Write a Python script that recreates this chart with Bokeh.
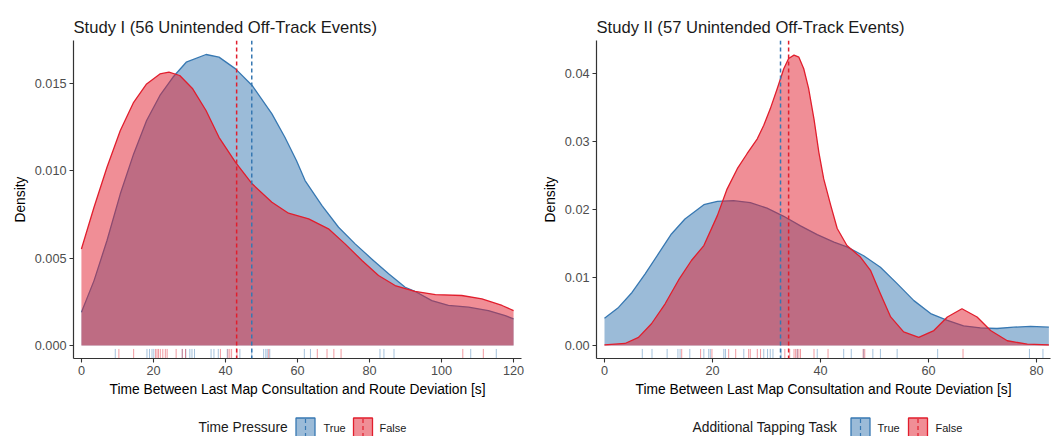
from bokeh.plotting import figure
from bokeh.layouts import column, row
from bokeh.models import Range1d, Span, FixedTicker, NumeralTickFormatter
from bokeh.core.properties import value
from bokeh.embed import file_html
from bokeh.resources import INLINE

# ---------------- data ----------------
# Study I density curves (seconds -> density)
s1_true_x = [0, 3.5, 7.1, 10.8, 14.5, 18.1, 21.8, 25.4, 29.1, 34.6, 38.2, 42.8, 47.4, 52.9,
             56.5, 59.7, 62.1, 66.8, 71.4, 76, 80.6, 85.3, 89.9, 92.6, 97.3, 101.9, 107.5,
             113, 117.7, 120]
s1_true_y = [0.0019, 0.00371, 0.006, 0.00867, 0.01095, 0.01286, 0.01429, 0.01533, 0.01619,
             0.01663, 0.01648, 0.01581, 0.01486, 0.01324, 0.0119, 0.01057, 0.00943, 0.008,
             0.00676, 0.00581, 0.00495, 0.0041, 0.00333, 0.0031, 0.00257, 0.00229, 0.00219,
             0.002, 0.00171, 0.00152]
s1_false_x = [0, 3.5, 7.1, 10.8, 14.5, 18.1, 21.8, 24.3, 27.3, 30.9, 34.6, 38.2, 42.8, 47.4,
              52.9, 57.5, 63.1, 68.6, 73.2, 77.9, 82.5, 87.1, 92.6, 98.3, 105.6, 111.2,
              116.8, 120]
s1_false_y = [0.00552, 0.0079, 0.01019, 0.01229, 0.0139, 0.01495, 0.01552, 0.01562, 0.01543,
              0.01467, 0.01343, 0.0119, 0.01047, 0.00924, 0.00819, 0.00756, 0.00724, 0.00667,
              0.00581, 0.00486, 0.004, 0.00343, 0.0031, 0.00291, 0.00286, 0.00267, 0.00229,
              0.002]
s1_true_rug = [9.4, 18.2, 18.9, 19.6, 20.1, 28.0, 29.0, 30.1, 30.7, 31.4, 36.0, 36.8, 38.0,
               40.5, 44.0, 47.3, 50.6, 51.2, 51.6, 52.3, 61.9, 63.6, 82.9, 84.0, 86.8, 108.1,
               115.2]
s1_false_rug = [10.4, 14.5, 20.6, 21.0, 21.4, 21.9, 22.6, 23.3, 23.8, 26.3, 28.0, 28.9, 38.6,
                40.7, 41.2, 41.7, 43.2, 52.0, 65.5, 68.2, 70.1, 72.1, 105.9, 111.6]
s1_means = {"True": 47.3, "False": 43.1}

# Study II density curves
s2_true_x = [0, 2.6, 5.1, 7.5, 10, 12.4, 14.9, 18.4, 20.9, 23.9, 27.0, 30.1, 33.2, 36.3,
             39.4, 42.5, 44.9, 48, 51.1, 54.2, 57.3, 60.4, 63.5, 66.5, 69.6, 72.7, 75.8,
             78.9, 82.3]
s2_true_y = [0.004, 0.0056, 0.0078, 0.0105, 0.0135, 0.0164, 0.0186, 0.0207, 0.0212, 0.0213,
             0.021, 0.0202, 0.019, 0.0176, 0.0163, 0.0152, 0.0145, 0.0132, 0.0115, 0.0091,
             0.0066, 0.0047, 0.0037, 0.0029, 0.0026, 0.0025, 0.0027, 0.0028, 0.0027]
s2_false_x = [0, 3.8, 6.3, 8.7, 11.2, 13.7, 16.1, 18.4, 20.9, 22.7, 24.6, 26.4, 28.3, 29.5,
              30.7, 32.0, 33.2, 34.1, 35.1, 36.0, 36.9, 37.8, 38.8, 39.7, 40.6, 41.9, 43.1,
              44.9, 47.4, 49.3, 51.1, 53.0, 55.4, 58.2, 61, 63.5, 66.2, 69, 71.5, 74.6, 78.3,
              82.3]
s2_false_y = [0.0001, 0.0003, 0.0012, 0.0032, 0.0061, 0.0096, 0.0125, 0.0147, 0.0191, 0.0230,
              0.0260, 0.0282, 0.0304, 0.0324, 0.0348, 0.0378, 0.0407, 0.0422, 0.0427, 0.0424,
              0.0407, 0.0378, 0.0333, 0.0284, 0.0245, 0.0206, 0.0172, 0.0147, 0.013, 0.011,
              0.0076, 0.0042, 0.002, 0.0012, 0.0022, 0.0042, 0.0054, 0.0042, 0.0022, 0.0007,
              0.0002, 0.0001]
s2_true_rug = [7.0, 8.8, 11.6, 13.6, 14.0, 15.8, 18.4, 19.3, 19.6, 22.1, 22.4, 25.8, 29.5,
               30.2, 30.7, 31.2, 32.7, 35.7, 39.4, 44.3, 45.7, 48.0, 49.7, 51.1, 54.2, 61.7,
               78.7, 81.2]
s2_false_rug = [14.3, 17.8, 19.9, 23.0, 24.3, 26.7, 27.0, 28.3, 28.9, 33.4, 34.3, 35.1, 35.4,
                35.7, 36.0, 36.3, 38.8, 41.4, 47.9, 48.2, 66.4]
s2_means = {"True": 32.6, "False": 34.1}

s1_xticks = [0, 20, 40, 60, 80, 100, 120]
s1_yticks = [0.0, 0.005, 0.010, 0.015]
s2_xticks = [0, 20, 40, 60, 80]
s2_yticks = [0.0, 0.01, 0.02, 0.03, 0.04]

titles = ["Study I (56 Unintended Off-Track Events)", "Study II (57 Unintended Off-Track Events)"]
x_label = "Time Between Last Map Consultation and Route Deviation [s]"
y_label = "Density"
legend_titles = ["Time Pressure", "Additional Tapping Task"]
groups = ["True", "False"]

# ---------------- style ----------------
BLUE = "#3778B2"
RED = "#E11E2D"
COLORS = {"True": BLUE, "False": RED}
FONT = "Liberation Sans"
AXIS_COL = "#333333"


def make_panel(title, width, left, right, xr, yr, xticks, yticks, yfmt,
               curves, rugs, means):
    p = figure(width=width, height=400, x_range=Range1d(*xr), y_range=Range1d(*yr),
               output_backend="svg", toolbar_location=None,
               min_border_left=left, min_border_right=right,
               min_border_top=40, min_border_bottom=42)
    p.title.text = title
    p.title.text_font = FONT
    p.title.text_font_size = "16.6px"
    p.title.text_font_style = "normal"
    p.title.text_color = "#1A1A1A"
    p.title.align = "left"
    p.title.standoff = 7
    p.outline_line_color = None
    p.grid.visible = False
    p.background_fill_color = "white"
    p.border_fill_color = "white"
    for ax in (p.xaxis[0], p.yaxis[0]):
        ax.axis_line_color = AXIS_COL
        ax.axis_line_width = 1.2
        ax.major_tick_line_color = AXIS_COL
        ax.major_tick_line_width = 1.1
        ax.major_tick_out = 4
        ax.major_tick_in = 0
        ax.minor_tick_line_color = None
        ax.major_label_text_font = FONT
        ax.major_label_text_font_size = "12.7px"
        ax.major_label_text_color = "#4D4D4D"
        ax.major_label_standoff = 3
        ax.axis_label_text_font = FONT
        ax.axis_label_text_font_size = "13.8px"
        ax.axis_label_text_font_style = "normal"
        ax.axis_label_text_color = "black"
        ax.axis_label_standoff = 4
    p.xaxis.ticker = FixedTicker(ticks=xticks)
    p.yaxis.ticker = FixedTicker(ticks=yticks)
    p.yaxis.formatter = NumeralTickFormatter(format=yfmt)
    p.xaxis.axis_label = x_label
    p.yaxis.axis_label = y_label

    y0 = yr[0]
    rug_top = yr[0] + 0.03 * (yr[1] - yr[0])
    for g in groups:
        xs, ys = curves[g]
        p.varea(x=xs, y1=[0] * len(xs), y2=ys, fill_color=COLORS[g], fill_alpha=0.5)
        p.line(xs, ys, line_color=COLORS[g], line_width=1.3, line_join="round")
    for g in groups:
        r = rugs[g]
        p.segment(x0=r, y0=[y0] * len(r), x1=r, y1=[rug_top] * len(r),
                  line_color=COLORS[g], line_alpha=0.45, line_width=1)
    for g in groups:
        p.add_layout(Span(location=means[g], dimension="height", line_color=COLORS[g],
                          line_dash="4 3", line_width=1.5))
    return p


p1 = make_panel(titles[0], 530, 73, 9, (-2.2, 122.2), (-0.00074, 0.01743),
                s1_xticks, s1_yticks, "0.000",
                {"True": (s1_true_x, s1_true_y), "False": (s1_false_x, s1_false_y)},
                {"True": s1_true_rug, "False": s1_false_rug}, s1_means)
p2 = make_panel(titles[1], 523, 66, 3, (-1.48, 82.6), (-0.00191, 0.04485),
                s2_xticks, s2_yticks, "0.00",
                {"True": (s2_true_x, s2_true_y), "False": (s2_false_x, s2_false_y)},
                {"True": s2_true_rug, "False": s2_false_rug}, s2_means)

# ---------------- legend strip ----------------
leg = figure(width=1053, height=36, x_range=Range1d(0, 1053), y_range=Range1d(0, 36),
             output_backend="svg", toolbar_location=None, min_border=0)
leg.axis.visible = False
leg.grid.visible = False
leg.outline_line_color = None
leg.border_fill_color = "white"

legend_layout = [  # title_x, key centers, label xs
    (198, [305, 362.5], [323, 379]),
    (692, [860, 917.5], [877, 935]),
]
cy = 9
for (tx, keys, labs), ttl in zip(legend_layout, legend_titles):
    leg.text(x=[tx], y=[cy], text=[ttl], text_font=value(FONT), text_font_size="13.8px",
             text_baseline="middle", text_align="left", text_color="#1A1A1A")
    for kx, lx, g in zip(keys, labs, groups):
        leg.rect(x=[kx], y=[cy], width=19, height=19, fill_color=COLORS[g], fill_alpha=0.5,
                 line_color=COLORS[g], line_width=1.3)
        leg.segment(x0=[kx], y0=[cy - 9.5], x1=[kx], y1=[cy + 9.5], line_color=COLORS[g],
                    line_dash="4 3", line_width=1.2)
        leg.text(x=[lx], y=[cy], text=[g], text_font=value(FONT), text_font_size="11px",
                 text_baseline="middle", text_align="left", text_color="#1A1A1A")

layout = column(row(p1, p2), leg)
open("out.html", "w").write(file_html(layout, INLINE))
